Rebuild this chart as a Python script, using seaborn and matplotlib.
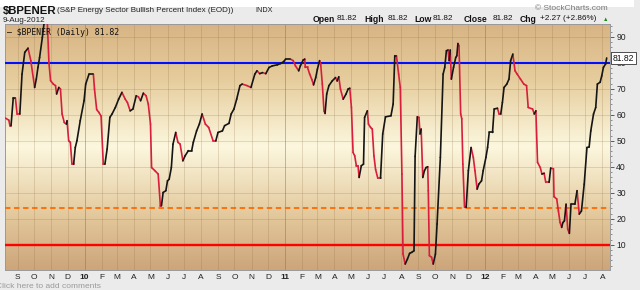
import numpy as np
import pandas as pd
import matplotlib
matplotlib.use("Agg")
import matplotlib.pyplot as plt
from matplotlib.colors import LinearSegmentedColormap
from matplotlib.patches import Rectangle
from matplotlib.ticker import MultipleLocator
import seaborn as sns

# ---------------- data ----------------
dates = [
    "2009-08-10", "2009-08-16", "2009-08-18", "2009-08-20", "2009-08-24", "2009-08-28", "2009-08-31",
    "2009-09-05", "2009-09-09", "2009-09-14", "2009-09-20", "2009-09-25", "2009-10-02", "2009-10-05",
    "2009-10-08", "2009-10-11", "2009-10-16", "2009-10-19", "2009-10-21", "2009-10-25", "2009-10-28",
    "2009-10-31", "2009-11-05", "2009-11-09", "2009-11-11", "2009-11-15", "2009-11-18", "2009-11-21",
    "2009-11-25", "2009-11-29", "2009-11-30", "2009-12-03", "2009-12-06", "2009-12-09", "2009-12-12",
    "2009-12-15", "2009-12-18", "2009-12-24", "2009-12-31", "2010-01-03", "2010-01-09", "2010-01-17",
    "2010-01-19", "2010-01-23", "2010-01-27", "2010-01-31", "2010-02-04", "2010-02-07", "2010-02-11",
    "2010-02-16", "2010-02-20", "2010-02-26", "2010-03-04", "2010-03-10", "2010-03-16", "2010-03-20",
    "2010-03-25", "2010-03-30", "2010-04-05", "2010-04-09", "2010-04-13", "2010-04-18", "2010-04-23",
    "2010-04-27", "2010-05-01", "2010-05-03", "2010-05-09", "2010-05-15", "2010-05-19", "2010-05-21",
    "2010-05-24", "2010-05-29", "2010-06-01", "2010-06-04", "2010-06-08", "2010-06-11", "2010-06-16",
    "2010-06-20", "2010-06-24", "2010-06-29", "2010-07-03", "2010-07-09", "2010-07-15", "2010-07-18",
    "2010-07-24", "2010-07-29", "2010-08-03", "2010-08-09", "2010-08-15", "2010-08-23", "2010-08-28",
    "2010-09-01", "2010-09-09", "2010-09-13", "2010-09-21", "2010-09-25", "2010-09-30", "2010-10-05",
    "2010-10-11", "2010-10-15", "2010-10-24", "2010-10-31", "2010-11-07", "2010-11-11", "2010-11-16",
    "2010-11-21", "2010-11-27", "2010-12-03", "2010-12-09", "2010-12-18", "2010-12-24", "2010-12-30",
    "2011-01-02", "2011-01-11", "2011-01-16", "2011-01-20", "2011-01-26", "2011-01-29", "2011-02-03",
    "2011-02-06", "2011-02-07", "2011-02-11", "2011-02-15", "2011-02-19", "2011-02-22", "2011-02-26",
    "2011-03-01", "2011-03-05", "2011-03-07", "2011-03-10", "2011-03-13", "2011-03-15", "2011-03-18",
    "2011-03-22", "2011-03-28", "2011-04-03", "2011-04-06", "2011-04-09", "2011-04-12", "2011-04-17",
    "2011-04-22", "2011-04-26", "2011-04-29", "2011-05-02", "2011-05-05", "2011-05-08", "2011-05-11",
    "2011-05-14", "2011-05-16", "2011-05-20", "2011-05-24", "2011-05-26", "2011-05-31", "2011-06-02",
    "2011-06-06", "2011-06-09", "2011-06-12", "2011-06-15", "2011-06-19", "2011-06-24", "2011-06-28",
    "2011-07-03", "2011-07-13", "2011-07-17", "2011-07-20", "2011-07-23", "2011-07-27", "2011-07-30",
    "2011-08-02", "2011-08-04", "2011-08-08", "2011-08-12", "2011-08-16", "2011-08-20", "2011-08-24",
    "2011-08-26", "2011-08-30", "2011-09-02", "2011-09-04", "2011-09-06", "2011-09-09", "2011-09-12",
    "2011-09-15", "2011-09-18", "2011-09-19", "2011-09-21", "2011-09-25", "2011-09-28", "2011-10-02",
    "2011-10-05", "2011-10-11", "2011-10-16", "2011-10-19", "2011-10-22", "2011-10-25", "2011-10-27",
    "2011-10-29", "2011-10-31", "2011-11-04", "2011-11-08", "2011-11-10", "2011-11-12", "2011-11-14",
    "2011-11-17", "2011-11-19", "2011-11-21", "2011-11-24", "2011-11-27", "2011-12-01", "2011-12-06",
    "2011-12-10", "2011-12-13", "2011-12-17", "2011-12-20", "2011-12-25", "2011-12-28", "2012-01-02",
    "2012-01-05", "2012-01-08", "2012-01-14", "2012-01-17", "2012-01-23", "2012-01-26", "2012-01-29",
    "2012-02-01", "2012-02-04", "2012-02-09", "2012-02-13", "2012-02-16", "2012-02-20", "2012-02-24",
    "2012-02-28", "2012-03-05", "2012-03-11", "2012-03-16", "2012-03-19", "2012-03-27", "2012-03-30",
    "2012-04-02", "2012-04-05", "2012-04-10", "2012-04-13", "2012-04-17", "2012-04-20", "2012-04-26",
    "2012-04-29", "2012-05-04", "2012-05-05", "2012-05-10", "2012-05-13", "2012-05-16", "2012-05-19",
    "2012-05-21", "2012-05-24", "2012-05-27", "2012-05-30", "2012-06-02", "2012-06-05", "2012-06-12",
    "2012-06-16", "2012-06-20", "2012-06-24", "2012-06-29", "2012-07-04", "2012-07-08", "2012-07-11",
    "2012-07-16", "2012-07-20", "2012-07-23", "2012-07-28", "2012-07-31", "2012-08-03", "2012-08-07",
    "2012-08-09",
]
values = [
    58.7, 57.9, 55.8, 55.8, 66.4, 66.4, 60.3,
    60.3, 75.6, 84.0, 85.6, 80.8, 70.5, 73.7,
    78.2, 82.0, 89.7, 95.0, 97.0, 96.0, 80.1,
    73.1, 71.8, 71.2, 68.0, 70.5, 69.9, 60.3,
    57.0, 56.4, 57.7, 50.0, 49.4, 41.0, 41.0,
    47.4, 50.0, 57.7, 65.4, 71.8, 75.6, 75.6,
    69.9, 62.0, 60.9, 59.5, 41.0, 41.0, 46.8,
    59.0, 60.3, 62.8, 66.0, 68.6, 66.0, 64.7,
    61.5, 62.2, 67.3, 66.9, 65.4, 68.3, 67.3,
    64.1, 56.4, 39.7, 38.5, 37.2, 25.0, 25.0,
    30.1, 30.8, 34.6, 35.2, 39.7, 48.7, 53.2,
    49.4, 48.7, 42.3, 44.2, 46.2, 46.2, 49.4,
    53.8, 56.4, 60.3, 56.4, 55.1, 50.0, 50.0,
    53.2, 53.8, 55.8, 56.7, 60.3, 62.2, 66.0,
    71.2, 71.8, 71.2, 70.5, 75.6, 76.9, 75.8,
    76.2, 75.8, 78.2, 78.8, 79.2, 79.7, 80.5,
    81.4, 81.4, 80.8, 78.8, 76.9, 78.8, 81.0,
    81.4, 78.2, 78.2, 75.6, 73.5, 71.5, 74.3,
    77.5, 80.8, 79.5, 71.8, 61.5, 60.5, 68.0,
    71.2, 73.0, 74.3, 73.0, 74.6, 69.9, 66.0,
    67.9, 69.9, 70.2, 62.8, 45.5, 44.2, 40.4,
    40.4, 35.9, 40.4, 41.0, 59.0, 61.5, 56.4,
    55.1, 54.5, 44.2, 39.0, 35.6, 35.6, 52.6,
    59.2, 59.6, 64.1, 82.7, 82.7, 75.6, 70.5,
    37.2, 6.4, 2.6, 4.5, 6.7, 7.1, 7.7,
    44.0, 59.2, 59.0, 52.6, 54.5, 35.9, 38.5,
    39.7, 40.0, 30.8, 5.8, 5.2, 2.6, 6.4,
    18.0, 43.6, 75.6, 78.2, 84.6, 84.9, 80.8,
    84.9, 73.7, 78.2, 82.0, 82.7, 87.4, 86.5,
    60.3, 58.5, 41.0, 24.4, 24.4, 38.5, 47.4,
    43.6, 38.5, 31.4, 33.3, 34.6, 38.5, 43.6,
    47.4, 53.2, 53.2, 62.2, 62.5, 60.3, 60.3,
    64.7, 70.5, 71.8, 73.7, 80.8, 83.3, 76.9,
    75.6, 73.7, 71.8, 71.2, 62.8, 62.2, 60.3,
    61.5, 41.7, 39.7, 37.2, 37.5, 34.0, 34.0,
    39.5, 39.2, 28.5, 27.6, 23.0, 18.6, 16.7,
    18.5, 19.2, 25.6, 16.0, 14.4, 25.6, 25.6,
    30.8, 21.8, 23.0, 33.3, 47.4, 47.6, 53.8,
    60.3, 62.8, 71.8, 72.5, 75.0, 78.2, 79.55,
    81.82,
]
ref_overbought = 80
ref_signal = 24
ref_oversold = 10
y_ticks = [10, 20, 30, 40, 50, 60, 70, 80, 90]
x_start, x_end = "2009-08-09", "2012-08-15"
y_min, y_max = 0.3, 94.9
last_value = values[-1]
change = 2.27
change_pct = 2.86

# ---------------- style ----------------
sns.set_style("white")
plt.rcParams['font.family'] = ['Liberation Sans', 'DejaVu Sans']

W, H = 640, 290
fig = plt.figure(figsize=(W / 100, H / 100), dpi=100)
fig.patch.set_facecolor('white')
fx = lambda x: x / W
fy = lambda y: 1 - y / H

# gray panels right / bottom
fig.add_artist(Rectangle((fx(634), 0), 1, 1, transform=fig.transFigure,
                         facecolor='#ebebeb', edgecolor='none', zorder=-20))
fig.add_artist(Rectangle((0, 0), 1, 1 - fy(283), transform=fig.transFigure,
                         facecolor='#ebebeb', edgecolor='none', zorder=-20))

rect = [fx(5), (H - 270) / H, (610 - 5) / W, (270 - 24) / H]

# background gradient axes
bg = fig.add_axes(rect, zorder=0)
cmap = LinearSegmentedColormap.from_list(
    "sc", [(0.0, '#cda57a'), (0.22, '#e3c89c'), (0.5, '#fcf7de'), (0.78, '#e6cc9c'), (1.0, '#d8b484')])
grad = np.linspace(0, 1, 256).reshape(-1, 1)
bg.imshow(grad, aspect='auto', cmap=cmap, origin='lower', extent=[0, 1, 0, 1])
bg.set_axis_off()

ax = fig.add_axes(rect, zorder=1)
ax.set_facecolor('none')

# ---------------- series, coloured by direction ----------------
dts = pd.to_datetime(dates)
rows = []
prev = 'up'
for i in range(len(values) - 1):
    dv = values[i + 1] - values[i]
    d = 'up' if dv > 0 else ('down' if dv < 0 else prev)
    prev = d
    rows.append((i, dts[i], values[i], d))
    rows.append((i, dts[i + 1], values[i + 1], d))
seg = pd.DataFrame(rows, columns=['seg', 'date', 'value', 'dir'])

sns.lineplot(data=seg, x='date', y='value', hue='dir', units='seg', estimator=None,
             palette={'up': '#151515', 'down': '#d81e3c'}, linewidth=1.2,
             legend=False, sort=False, ax=ax, zorder=5)

# reference lines
ax.axhline(ref_overbought, color='#0010ff', lw=1.5, zorder=4)
ax.axhline(ref_signal, color='#ff6a00', lw=1.3, ls=(0, (3, 2)), zorder=4)
ax.axhline(ref_oversold, color='#ff0000', lw=1.7, zorder=4)

# limits
ax.set_xlim(pd.Timestamp(x_start), pd.Timestamp(x_end))
ax.set_ylim(y_min, y_max)

# grid: month verticals, year darker
months = pd.date_range("2009-09-01", "2012-08-01", freq="MS")
ax.set_xticks(months)
labels = [m.strftime('%y') if m.month == 1 else m.strftime('%b')[0] for m in months]
ax.set_xticklabels(labels)
for lab, m in zip(ax.get_xticklabels(), months):
    if m.month == 1:
        lab.set_fontweight('bold')
        lab.set_fontsize(6.8)
for m in months:
    ax.axvline(m, color='#8a6a40', alpha=0.45 if m.month == 1 else 0.22, lw=0.7, zorder=1)

ax.yaxis.tick_right()
ax.set_yticks(y_ticks)
ax.yaxis.set_minor_locator(MultipleLocator(2))
for yv in y_ticks:
    ax.axhline(yv, color='#8a6a40', alpha=0.22, lw=0.7, zorder=1)

ax.tick_params(axis='x', labelsize=6, colors='#222222', length=2, width=0.5, pad=1)
ax.tick_params(axis='y', which='major', labelsize=6.2, colors='#222222', length=3, width=0.5, pad=1.5)
ax.tick_params(axis='y', which='minor', length=1.5, width=0.5, colors='#666666')
ax.set_xlabel('')
ax.set_ylabel('')
for s in ax.spines.values():
    s.set_visible(True)
    s.set_color('#9a9a9a')
    s.set_linewidth(0.7)

# in-plot legend
ax.text(0.004, 0.985, "\u2014 \\$BPENER (Daily) {:.2f}".format(last_value), transform=ax.transAxes,
        family='DejaVu Sans Mono', fontsize=5.9, color='#111111', va='top', ha='left', zorder=6)

# last value box on the right
ax.annotate("{:.2f}".format(last_value), xy=(1.0, last_value), xycoords=('axes fraction', 'data'),
            xytext=(2, 0), textcoords='offset points', va='center', ha='left', fontsize=6.2,
            color='#111111', annotation_clip=False,
            bbox=dict(boxstyle='square,pad=0.15', fc='white', ec='#333333', lw=0.6), zorder=7)

# ---------------- header texts ----------------
fig.text(fx(3), fy(11), "\\$BPENER", fontsize=8.2, fontweight='bold', va='center', ha='left', color='#111111')
fig.text(fx(57), fy(11), "(S&P Energy Sector Bullish Percent Index (EOD))", fontsize=5.8,
         va='center', ha='left', color='#222222')
fig.text(fx(255), fy(11), "INDX", fontsize=5.2, va='center', ha='left', color='#222222')
fig.text(fx(3), fy(20.5), "9-Aug-2012", fontsize=5.9, va='center', ha='left', color='#222222')
fig.text(fx(535), fy(8), "\u00a9 StockCharts.com", fontsize=6, va='center', ha='left', color='#777777')

pieces = [(313, "Open", True), (337, "{:.2f}".format(last_value), False),
          (364, "High", True), (388, "{:.2f}".format(last_value), False),
          (414, "Low", True), (433, "{:.2f}".format(last_value), False),
          (464, "Close", True), (493, "{:.2f}".format(last_value), False),
          (520, "Chg", True), (540, "+{:.2f} (+{:.2f}%)".format(change, change_pct), False)]
for x, t, b in pieces:
    fig.text(fx(x), fy(19), t, fontsize=6.2 if b else 5.9, fontweight='bold' if b else 'normal',
             va='center', ha='left', color='#111111')
fig.text(fx(603), fy(19.5), "\u25b2", fontsize=4, va='center', ha='left', color='#1a8a1a')

fig.text(fx(-4), fy(287), "Click here to add comments", fontsize=6, va='center', ha='left', color='#9a9a9a')

fig.savefig("out.png", dpi=100, facecolor=fig.get_facecolor())
